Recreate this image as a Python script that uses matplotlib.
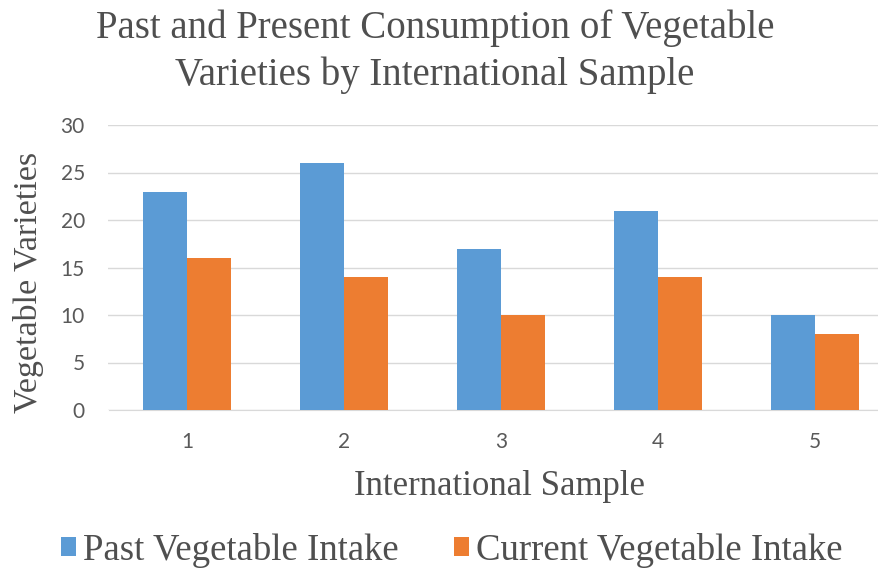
import matplotlib
matplotlib.use("Agg")
import matplotlib.pyplot as plt
import numpy as np

samples = ["1", "2", "3", "4", "5"]
past_intake = [23, 26, 17, 21, 10]
current_intake = [16, 14, 10, 14, 8]
series_names = ["Past Vegetable Intake", "Current Vegetable Intake"]
y_ticks = [0, 5, 10, 15, 20, 25, 30]

blue = "#5B9BD5"
orange = "#ED7D31"
text_color = "#4F4F4F"
serif = ["Liberation Serif", "DejaVu Serif"]
sans = ["Lato", "DejaVu Sans"]

fig = plt.figure(figsize=(8.79, 5.78), dpi=100)
W, H = 879, 578
left, right, bottom, top = 108.5, 893.5, 410, 125
ax = fig.add_axes([left / W, 1 - bottom / H, (right - left) / W, (bottom - top) / H])

x = np.arange(len(samples))
bw = 0.283
ax.bar(x - bw / 2, past_intake, bw, color=blue, label=series_names[0], zorder=3)
ax.bar(x + bw / 2, current_intake, bw, color=orange, label=series_names[1], zorder=3)

ax.set_xlim(-0.5, len(samples) - 0.5)
ax.set_ylim(0, 30)
ax.set_yticks(y_ticks)
ax.set_xticks(x)
ax.set_xticklabels(samples)
ax.yaxis.grid(True, color="#D9D9D9", linewidth=1.0, zorder=0)
for s in ["top", "right", "left"]:
    ax.spines[s].set_visible(False)
ax.spines["bottom"].set_color("#D9D9D9")
ax.tick_params(axis="both", length=0, labelcolor="#595959", labelsize=15)
for lbl in ax.get_xticklabels() + ax.get_yticklabels():
    lbl.set_family(sans)
ax.tick_params(axis="y", pad=17)
ax.tick_params(axis="x", pad=16)

fig.text(435 / W, 1 - 38 / H, "Past and Present Consumption of Vegetable",
         ha="center", va="baseline", fontsize=28, family=serif, color=text_color)
fig.text(435 / W, 1 - 85 / H, "Varieties by International Sample",
         ha="center", va="baseline", fontsize=28, family=serif, color=text_color)
fig.text(500 / W, 1 - 495 / H, "International Sample", ha="center", va="baseline",
         fontsize=25, family=serif, color=text_color)
fig.text(29 / W, 1 - 282 / H, "Vegetable Varieties", ha="center", va="center",
         rotation=90, fontsize=24.5, family=serif, color=text_color)

leg = fig.legend(loc="center", bbox_to_anchor=(452 / W, 1 - 550 / H), ncol=2, frameon=False,
                 prop={"family": serif, "size": 26.5}, handlelength=0.4, handleheight=0.4,
                 handletextpad=0.2, columnspacing=1.5, borderpad=0, borderaxespad=0)
for t in leg.get_texts():
    t.set_color(text_color)

fig.savefig("out.png", dpi=100)
